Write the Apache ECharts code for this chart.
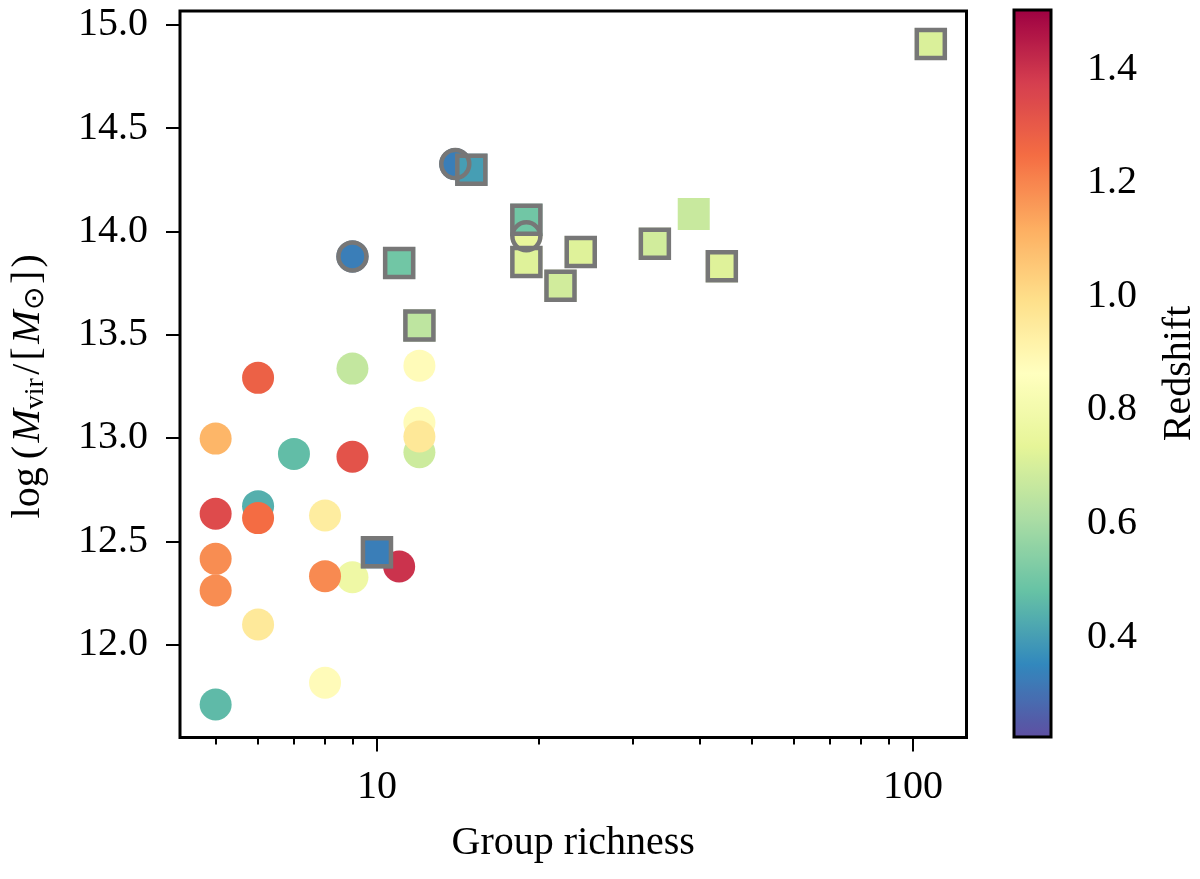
<!DOCTYPE html>
<html>
<head>
<meta charset="utf-8">
<script src="https://cdn.jsdelivr.net/npm/echarts@6/dist/echarts.min.js"></script>
<style>
html,body{margin:0;padding:0;background:#fff;}
#chart{width:1200px;height:879px;}
</style>
</head>
<body>
<div id="chart"></div>
<script>
// ---- data ----
// filled circles: richness, log Mvir, redshift, outlined flag (1 = grey ring)
const circleRichness = [5, 5, 5, 5, 5, 6, 6, 6, 6, 7, 8, 9, 8, 8, 9, 9, 11, 12, 12, 12, 12, 9, 14, 19];
const circleMass     = [12.997, 12.633, 12.415, 12.262, 11.710, 13.291, 12.670, 12.612, 12.097, 12.923, 12.625, 12.326, 12.331, 11.815, 13.336, 12.909, 12.378, 13.350, 12.931, 13.074, 13.007, 13.879, 14.326, 13.976];
const circleZ        = [1.10, 1.34, 1.185, 1.185, 0.463, 1.28, 0.437, 1.25, 0.955, 0.47, 0.94, 0.78, 1.19, 0.88, 0.66, 1.32, 1.40, 0.88, 0.68, 0.88, 0.96, 0.33, 0.33, 0.75];
const circleOutlined = [0, 0, 0, 0, 0, 0, 0, 0, 0, 0, 0, 0, 0, 0, 0, 0, 0, 0, 0, 0, 0, 1, 1, 1];

// squares
const squareRichness = [15, 11, 12, 10, 19, 19, 22, 24, 33, 39, 44, 108];
const squareMass     = [14.298, 13.847, 13.544, 12.447, 14.057, 13.852, 13.737, 13.900, 13.940, 14.084, 13.831, 14.907];
const squareZ        = [0.40, 0.50, 0.65, 0.33, 0.50, 0.72, 0.69, 0.72, 0.69, 0.67, 0.72, 0.71];
const squareOutlined = [1, 1, 1, 1, 1, 1, 1, 1, 1, 0, 1, 1];

// ticks
const xMajorTicks = [10, 100];
const xMinorTicks = [5, 6, 7, 8, 9, 20, 30, 40, 50, 60, 70, 80, 90];
const yTicks = [12.0, 12.5, 13.0, 13.5, 14.0, 14.5, 15.0];
const cbTicks = [0.4, 0.6, 0.8, 1.0, 1.2, 1.4];

// colour scale (Spectral_r)
const spectralR = ['#5e4fa2', '#3288bd', '#66c2a5', '#abdda4', '#e6f598', '#ffffbf', '#fee08b', '#fdae61', '#f46d43', '#d53e4f', '#9e0142'];
const zMin = 0.224, zMax = 1.504;

// ---- build ----
const FONT = 'Liberation Serif';
const circleData = circleRichness.map((r, i) => [r, circleMass[i], circleZ[i]]);
const squareData = squareRichness.map((r, i) => [r, squareMass[i], squareZ[i]]);
const ringData = circleRichness.map((r, i) => [r, circleMass[i]]).filter((d, i) => circleOutlined[i]);
const boxData = squareRichness.map((r, i) => [r, squareMass[i]]).filter((d, i) => squareOutlined[i]);

const chart = echarts.init(document.getElementById('chart'), null, {renderer: 'canvas'});
const labelStyle = {fontFamily: FONT, fontSize: 40, color: '#000'};

chart.setOption({
  animation: false,
  backgroundColor: '#fff',
  grid: [
    {left: 180, right: 233.5, top: 11, bottom: 141.5, show: true, borderColor: '#000', borderWidth: 3, backgroundColor: 'transparent', z: 10},
    {left: 1014, top: 10, width: 37, height: 727, show: true, borderColor: '#000', borderWidth: 3, backgroundColor: 'transparent', z: 10}
  ],
  xAxis: [
    {
      type: 'log', gridIndex: 0, min: 4.29, max: 125.9, position: 'bottom',
      axisLine: {show: false},
      axisTick: {show: true, inside: false, length: 14, lineStyle: {color: '#000', width: 2}, customValues: xMajorTicks},
      axisLabel: Object.assign({margin: 30, customValues: xMajorTicks, formatter: v => String(Math.round(v))}, labelStyle),
      splitLine: {show: false}, minorTick: {show: false},
      name: 'Group richness', nameLocation: 'middle', nameGap: 86,
      nameTextStyle: {fontFamily: FONT, fontSize: 40, color: '#000'}
    },
    {
      type: 'log', gridIndex: 0, min: 4.29, max: 125.9, position: 'bottom',
      axisLine: {show: false},
      axisTick: {show: true, inside: false, length: 7, lineStyle: {color: '#000', width: 2}, customValues: xMinorTicks},
      axisLabel: {show: false},
      splitLine: {show: false}
    },
    {type: 'value', gridIndex: 1, min: 0, max: 1, show: false}
  ],
  yAxis: [
    {
      type: 'value', gridIndex: 0, min: 11.55, max: 15.067,
      axisLine: {show: false},
      axisTick: {show: true, inside: false, length: 14, lineStyle: {color: '#000', width: 2}, customValues: yTicks},
      axisLabel: Object.assign({margin: 32, customValues: yTicks, formatter: v => v.toFixed(1)}, labelStyle),
      splitLine: {show: false},
      name: '{r|log\u2009(\u200a}{i|M}{s|vir}{r|\u200a/\u200a[\u200a}{i|M}{s|\u2299}{r|\u200a]\u200a)}',
      nameLocation: 'middle', nameGap: 130, nameRotate: 90,
      nameTextStyle: {
        padding: [0, 24, 0, 0],
        rich: {
          r: {fontFamily: FONT, fontSize: 40, color: '#000', lineHeight: 44, verticalAlign: 'middle'},
          i: {fontFamily: FONT, fontSize: 40, fontStyle: 'italic', color: '#000', lineHeight: 44, verticalAlign: 'middle'},
          s: {fontFamily: FONT, fontSize: 28, color: '#000', lineHeight: 26, verticalAlign: 'bottom'}
        }
      }
    },
    {
      type: 'value', gridIndex: 1, min: zMin, max: zMax, position: 'right',
      axisLine: {show: false},
      axisTick: {show: true, inside: false, length: 15, lineStyle: {color: '#000', width: 2}, customValues: cbTicks},
      axisLabel: Object.assign({margin: 36, customValues: cbTicks, formatter: v => v.toFixed(1)}, labelStyle),
      splitLine: {show: false},
      name: 'Redshift', nameLocation: 'middle', nameGap: 108, nameRotate: 90,
      nameTextStyle: {fontFamily: FONT, fontSize: 40, color: '#000'}
    }
  ],
  visualMap: {
    type: 'continuous', min: zMin, max: zMax, dimension: 2, seriesIndex: [0, 1],
    inRange: {color: spectralR},
    calculable: false, realtime: false, hoverLink: false,
    orient: 'vertical', left: 1014, top: 10, itemWidth: 37, itemHeight: 727,
    padding: 0, text: null, showLabel: false
  },
  series: [
    {type: 'scatter', xAxisIndex: 0, yAxisIndex: 0, symbol: 'circle', symbolSize: 32, data: circleData,
     itemStyle: {opacity: 1}, emphasis: {disabled: true}, silent: true},
    {type: 'scatter', xAxisIndex: 0, yAxisIndex: 0, symbol: 'rect', symbolSize: 32, data: squareData,
     itemStyle: {opacity: 1}, emphasis: {disabled: true}, silent: true},
    {type: 'scatter', xAxisIndex: 0, yAxisIndex: 0, symbol: 'circle', symbolSize: 28, data: ringData,
     itemStyle: {color: 'rgba(0,0,0,0)', borderColor: '#777777', borderWidth: 4.5, opacity: 1}, emphasis: {disabled: true}, silent: true},
    {type: 'scatter', xAxisIndex: 0, yAxisIndex: 0, symbol: 'rect', symbolSize: 28, data: boxData,
     itemStyle: {color: 'rgba(0,0,0,0)', borderColor: '#777777', borderWidth: 4.5, opacity: 1}, emphasis: {disabled: true}, silent: true}
  ]
});
</script>
</body>
</html>
